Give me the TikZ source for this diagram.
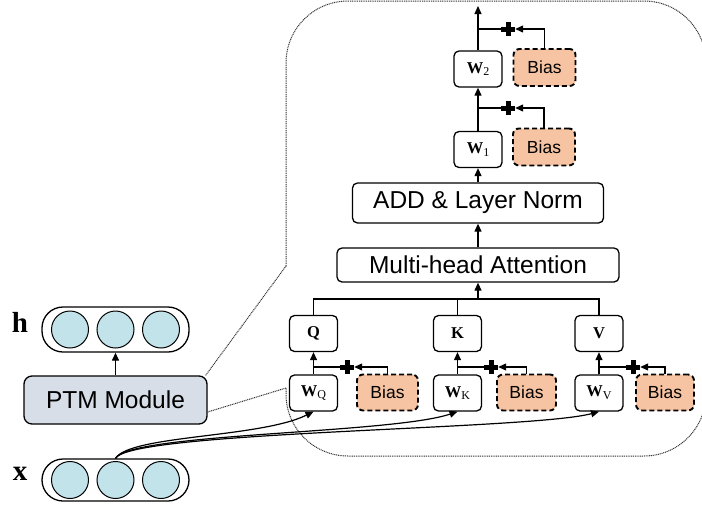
\documentclass[tikz,border=0pt]{standalone}
\usepackage{fontspec}
\setmainfont{Liberation Serif}
\newfontfamily\arial{Liberation Sans}
\usetikzlibrary{arrows.meta}
\definecolor{biasfill}{RGB}{246,196,162}
\definecolor{vecfill}{RGB}{194,227,234}
\definecolor{ptmfill}{RGB}{216,222,232}
\definecolor{dotgray}{RGB}{50,50,50}
\newcommand\wlab[1]{\textbf{W}\raisebox{-0.35ex}{\fontsize{12}{12}\selectfont #1}}
\begin{document}
\begin{tikzpicture}[x=1pt,y=-1pt,
  box/.style={draw, line width=1.3pt, rounded corners=5pt, inner sep=0pt},
  wbox/.style={box, minimum width=48pt, minimum height=36pt, font=\fontsize{16.5}{16.5}\selectfont},
  biasbox/.style={draw, line width=1.9pt, dash pattern=on 5pt off 3pt, rounded corners=6pt,
    fill=biasfill, inner sep=0pt, minimum height=36pt, font=\arial\fontsize{17.5}{17.5}\selectfont},
  bigbox/.style={box, font=\arial\fontsize{24.5}{26}\selectfont},
  arr/.style={line width=1.2pt, -{Triangle[length=8pt,width=7pt]}},
  ln/.style={line width=1.2pt},
  plus/.style={minimum size=14pt, inner sep=0pt,
    path picture={\fill (path picture bounding box.center) ++(-7,-2.5) rectangle ++(14,5);
                  \fill (path picture bounding box.center) ++(-2.5,-7) rectangle ++(5,14);}},
  pill/.style={draw, line width=1.3pt, rounded corners=21pt, minimum width=147pt, inner sep=0pt},
  cell/.style={circle, draw, line width=1pt, fill=vecfill, minimum size=37pt, inner sep=0pt},
  dots/.style={dotgray, line width=1pt, dash pattern=on 1pt off 0.8pt},
  veclab/.style={font=\bfseries\fontsize{29}{29}\selectfont}
]
\useasboundingbox (0,0) rectangle (702,504);

% ---- left side ----
\node[pill, minimum height=45pt] (hv) at (115.5,329.5) {};
\node[cell] (h1) at (70,329.5) {};
\node[cell] (h2) at (115.5,329.5) {};
\node[cell] (h3) at (161,329.5) {};
\node[veclab] (hl) at (20,322) {h};

\node[box, rounded corners=8pt, fill=ptmfill, minimum width=183pt, minimum height=48pt,
      font=\arial\fontsize{24.5}{26}\selectfont] (ptm) at (115.5,400) {PTM Module};

\node[pill, minimum height=42pt] (xv) at (115.5,480) {};
\node[cell] (x1) at (70,480) {};
\node[cell] (x2) at (115.5,480) {};
\node[cell] (x3) at (161,480) {};
\node[veclab] (xl) at (20,474) {x};

\draw[arr] (ptm.north -| hv.south) -- (hv.south);

% ---- dotted zoom outline ----
\coordinate (o1) at (286,266);
\coordinate (o2) at (286,388);
\draw[dots] ([xshift=-2pt]ptm.north east) -- (o1);
\draw[dots, rounded corners=62pt] (o1) -- (286,1) -- (706,1) -- (706,456) -- (286,456) -- (o2);
\draw[dots] ([yshift=-12pt]ptm.east) -- (o2);

% ---- attention block ----
\node[wbox] (q) at (313.5,333.5) {\textbf{Q}};
\node[wbox] (k) at (457.5,333.5) {\textbf{K}};
\node[wbox] (v) at (599,333.5) {\textbf{V}};
\node[wbox] (wq) at (313.5,393) {\wlab{Q}};
\node[wbox] (wk) at (457.5,393) {\wlab{K}};
\node[wbox] (wv) at (599,393) {\wlab{V}};
\node[biasbox, minimum width=61pt] (bq) at (387.5,392.5) {Bias};
\node[biasbox, minimum width=59pt] (bk) at (526.5,392.5) {Bias};
\node[biasbox, minimum width=58pt] (bv) at (665,392.5) {Bias};
\node[plus] (pq) at (347,367) {};
\node[plus] (pk) at (491,367) {};
\node[plus] (pv) at (633,367) {};

\foreach \w/\t/\b/\p in {wq/q/bq/pq, wk/k/bk/pk, wv/v/bv/pv}{
  \draw[arr] (\w) -- (\t);
  \draw[ln] (\p.west) -- (\w.north |- \p);
  \draw[arr] (\b.north) |- (\p.east);
}

\node[bigbox, minimum width=282pt, minimum height=34pt] (mha) at (478,265) {Multi-head Attention};
\node[bigbox, minimum width=251pt, minimum height=40pt] (add) at (478,203) {ADD \& Layer Norm};

\coordinate (bus) at (478,299);
\draw[ln] (q.north) |- (bus) -| (v.north);
\draw[ln] (k.north) -- (k.north |- bus);
\draw[arr] (bus) -- (mha.south);
\draw[arr] (mha) -- (add);

% ---- feed-forward ----
\node[wbox] (w1) at (478,149.5) {\wlab{1}};
\node[wbox] (w2) at (478,69) {\wlab{2}};
\node[biasbox, minimum width=62pt, minimum height=37pt] (b1) at (544,147) {Bias};
\node[biasbox, minimum width=62pt, minimum height=37pt] (b2) at (544.5,67.5) {Bias};
\node[plus] (p1) at (508,108) {};
\node[plus] (p2) at (508,29) {};
\coordinate (out) at (478,6);

\draw[arr] (add) -- (w1);
\draw[arr] (w1) -- (w2);
\draw[arr] (w2) -- (out);
\draw[ln] (p1.west) -- (w1.north |- p1);
\draw[ln] (p2.west) -- (w2.north |- p2);
\draw[arr] (b1.north) |- (p1.east);
\draw[arr] (b2.north) |- (p2.east);

% ---- input curves ----
\draw[arr] (xv.north) .. controls (130,435) and (260,438) .. (wq.south);
\draw[arr] (xv.north) .. controls (130,433) and (390,434) .. (wk.south);
\draw[arr] (xv.north) .. controls (130,431) and (530,430) .. (wv.south);
\end{tikzpicture}
\end{document}
